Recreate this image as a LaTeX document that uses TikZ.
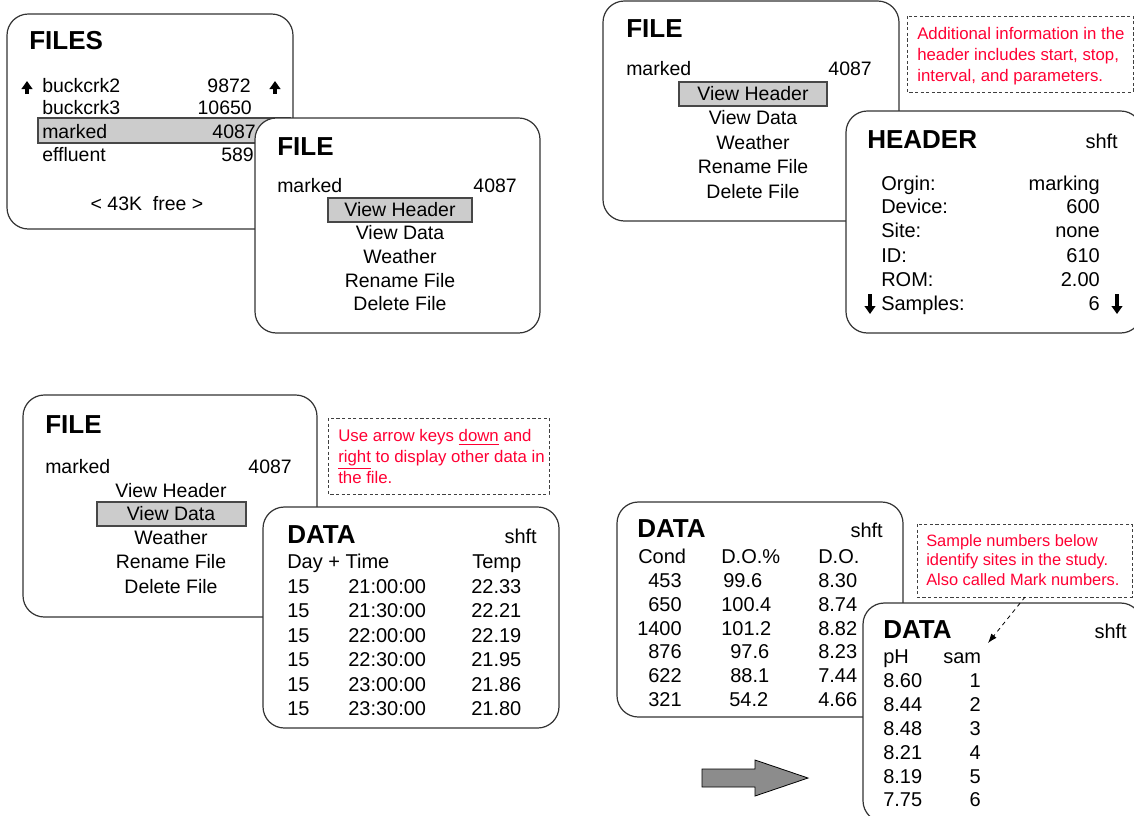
\documentclass[tikz,border=0pt]{standalone}
\usepackage{fontspec}
\setmainfont{Liberation Sans}
\usepackage{tikz}
\usetikzlibrary{arrows.meta}
\definecolor{notered}{RGB}{255,0,51}
\definecolor{selgray}{RGB}{204,204,204}
\definecolor{rim}{RGB}{51,51,51}

\begin{document}
\begin{tikzpicture}[x=0.75pt,y=-0.75pt,
  every node/.style={inner sep=0pt},
  screen/.style={draw=rim,line width=0.9pt,fill=white,rounded corners=16pt},
  pick/.style={draw=rim!90,line width=0.8pt,fill=selgray},
  note/.style={draw=black!75,line width=0.6pt,dash pattern=on 2.4pt off 1.8pt},
  lt/.style={anchor=base west},
  rt/.style={anchor=base east},
  ct/.style={anchor=base},
  ttl/.style={lt,font=\fontsize{19.5}{22}\selectfont\bfseries},
  mnu/.style={font=\fontsize{14.6}{17}\selectfont},
  tbl/.style={font=\fontsize{15}{18}\selectfont},
  memo/.style={lt,align=left,text=notered,font=\fontsize{12.6}{15.4}\selectfont},
  scroll/.style={line width=2.6pt,-{Triangle[length=6pt,width=8pt]}}]
\useasboundingbox (0,0) rectangle (1134,815);
%-------->FILES screen<--------------
\draw[screen] (7,14) rectangle (293,229);
\node[ttl] (fs) at (29,49) {FILES};
\draw[pick] (38,118) rectangle (290,143);
\draw[scroll] (27,94) -- (27,81);
\draw[scroll] (275,94) -- (275,81);
\node[mnu,lt] (fs1) at (42,92) {buckcrk2}; \node[mnu,rt] (fs1n) at (251,92) {9872};
\node[mnu,lt] (fs2) at (42,114) {buckcrk3}; \node[mnu,rt] (fs2n) at (252,114) {10650};
\node[mnu,lt] (fs3) at (42,138) {marked}; \node[mnu,rt] (fs3n) at (256,138) {4087};
\node[mnu,lt] (fs4) at (42,161) {effluent}; \node[mnu,rt] (fs4n) at (254,161) {589};
\node[mnu,ct] (fsfree) at (147,210) {<~43K~~free~>};
%-------->FILE screen, header picked<--------------
\draw[screen] (255,118) rectangle (540,333);
\node[ttl] (fa) at (277,155) {FILE};
\node[mnu,lt] (fam) at (277,192) {marked}; \node[mnu,rt] (fan) at (517,192) {4087};
\draw[pick] (328,198) rectangle (472,222);
\node[mnu,ct] (fa1) at (400,216) {View Header};
\node[mnu,ct] (fa2) at (400,239) {View Data};
\node[mnu,ct] (fa3) at (400,263) {Weather};
\node[mnu,ct] (fa4) at (400,287) {Rename File};
\node[mnu,ct] (fa5) at (400,310) {Delete File};
%-------->FILE screen, top right<--------------
\draw[screen] (603,1) rectangle (899,221);
\node[ttl] (fb) at (626,37) {FILE};
\node[mnu,lt] (fbm) at (626,75) {marked}; \node[mnu,rt] (fbn) at (872,75) {4087};
\draw[pick] (679,82) rectangle (827,106);
\node[mnu,ct] (fb1) at (753,100) {View Header};
\node[mnu,ct] (fb2) at (753,124) {View Data};
\node[mnu,ct] (fb3) at (753,149) {Weather};
\node[mnu,ct] (fb4) at (753,173) {Rename File};
\node[mnu,ct] (fb5) at (753,198) {Delete File};
\draw[note] (907,16) rectangle (1133,92);
\node[memo] (n1) at (917,81) {Additional information in the\\header includes start, stop,\\interval, and parameters.};
%-------->HEADER screen<--------------
\draw[screen] (846,111) rectangle (1142,333);
\node[ttl] (hd) at (867,148) {HEADER};
\node[tbl,rt] (hdshft) at (1118,148) {shft};
\foreach \y/\lab/\val [count=\i] in {190/Orgin:/marking, 213/Device:/600, 237/Site:/none,
    262/ID:/610, 286/ROM:/2.00, 310/Samples:/6}{
  \node[tbl,lt] (hd\i) at (881,\y) {\lab};
  \node[tbl,rt] (hdv\i) at (1100,\y) {\val};
}
\draw[scroll] (870,294) -- (870,314);
\draw[scroll] (1117,294) -- (1117,314);
%-------->FILE screen, data picked<--------------
\draw[screen] (23,395) rectangle (317,617);
\node[ttl] (fc) at (45,433) {FILE};
\node[mnu,lt] (fcm) at (45,473) {marked}; \node[mnu,rt] (fcn) at (292,473) {4087};
\draw[pick] (97,502) rectangle (246,526);
\node[mnu,ct] (fc1) at (171,497) {View Header};
\node[mnu,ct] (fc2) at (171,520) {View Data};
\node[mnu,ct] (fc3) at (171,544) {Weather};
\node[mnu,ct] (fc4) at (171,568) {Rename File};
\node[mnu,ct] (fc5) at (171,593) {Delete File};
\draw[note] (328,418) rectangle (549,494);
\node[memo] (n2) at (338,483) {Use arrow keys \underline{down} and\\\underline{right} to display other data in\\the file.};
%-------->DATA screen, temperature<--------------
\draw[screen] (263,507) rectangle (559,728);
\node[ttl] (da) at (287,543) {DATA};
\node[tbl,rt] (dashft) at (537,543) {shft};
\node[tbl,lt] (dah1) at (287,568) {Day + Time};
\node[tbl,lt] (dah2) at (472,568) {Temp};
\foreach \y/\tm/\tp [count=\i] in {593/21:00:00/22.33, 617/21:30:00/22.21, 642/22:00:00/22.19,
    666/22:30:00/21.95, 691/23:00:00/21.86, 715/23:30:00/21.80}{
  \node[tbl,lt] (dad\i) at (287,\y) {15};
  \node[tbl,lt] (dat\i) at (348,\y) {\tm};
  \node[tbl,lt] (dap\i) at (471,\y) {\tp};
}
%-------->DATA screen, oxygen<--------------
\draw[screen] (617,502) rectangle (903,717);
\node[ttl] (db) at (637,537) {DATA};
\node[tbl,rt] (dbshft) at (883,537) {shft};
\node[tbl,lt] (dbh1) at (638,563) {Cond};
\node[tbl,lt] (dbh2) at (721,563) {D.O.\%};
\node[tbl,lt] (dbh3) at (818,563) {D.O.};
\foreach \y/\cd/\px/\pc/\ox [count=\i] in {587/453/723/99.6/8.30, 611/650/721/100.4/8.74,
    635/1400/721/101.2/8.82, 658/876/730/97.6/8.23, 682/622/730/88.1/7.44, 706/321/729/54.2/4.66}{
  \node[tbl,rt] (dbc\i) at (682,\y) {\cd};
  \node[tbl,lt] (dbp\i) at (\px,\y) {\pc};
  \node[tbl,lt] (dbo\i) at (818,\y) {\ox};
}
\draw[note] (917,524) rectangle (1132,597);
\node[memo,font=\fontsize{12.3}{14.3}\selectfont] (n3) at (926,585) {Sample numbers below\\identify sites in the study.\\Also called Mark numbers.};
%-------->DATA screen, pH<--------------
\draw[screen] (863,603) rectangle (1142,822);
\node[ttl] (dc) at (883,638) {DATA};
\node[tbl,rt] (dcshft) at (1127,638) {shft};
\node[tbl,lt] (dch1) at (883,663) {pH};
\node[tbl,lt] (dch2) at (943,663) {sam};
\foreach \y/\ph [count=\i] in {687/8.60, 711/8.44, 735/8.48, 759/8.21, 783/8.19, 806/7.75}{
  \node[tbl,lt] (dcp\i) at (883,\y) {\ph};
  \node[tbl,rt] (dcs\i) at (981,\y) {\i};
}
\coordinate (n3foot) at (1025,597);
\coordinate (samtip) at (988,643);
\draw[line width=0.6pt,dashed,-{Latex[length=7pt,width=5pt]}] (n3foot) -- (samtip);
%-------->next arrow<--------------
\draw[fill=black!45,line width=0.6pt] (702,769) -- (755,769) -- (755,760) -- (808,778)
  -- (755,796) -- (755,787) -- (702,787) -- cycle;
\end{tikzpicture}
\end{document}
